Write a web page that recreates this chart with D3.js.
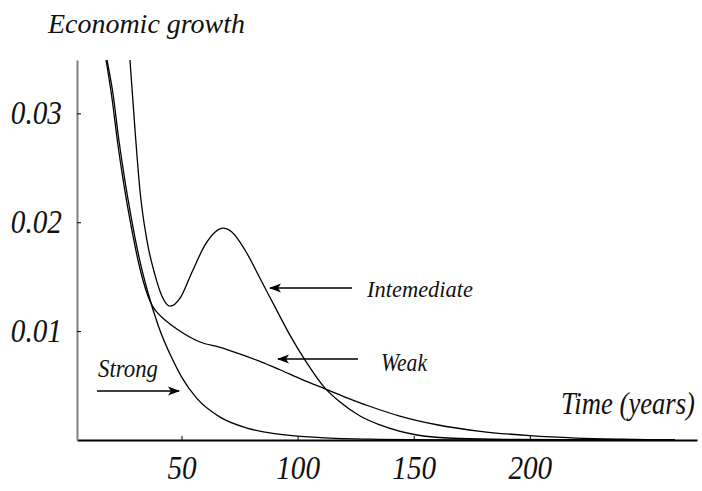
<!DOCTYPE html>
<html>
<head>
<meta charset="utf-8">
<script src="https://cdn.jsdelivr.net/npm/d3@7"></script>
<style>
  body { margin: 0; background: #fff; }
  svg text { font-family: "Liberation Serif", serif; font-style: italic; fill: #111; }
</style>
</head>
<body>
<div id="container"></div>
<script>
/**
 * DATA (time in years, growth rate)
 * */
const xTicks = [50, 100, 150, 200];
const yTicks = [0.01, 0.02, 0.03];

const intermediate = [
  [27.8, 0.0349], [30.0, 0.02844], [32.1, 0.02294], [35.1, 0.01835], [38.6, 0.01514],
  [41.6, 0.01321], [45.1, 0.01229], [49.4, 0.01303], [54.5, 0.01541], [60.1, 0.01789],
  [64.4, 0.01908], [67.9, 0.01945], [71.8, 0.01908], [77.4, 0.01743], [83.8, 0.01486],
  [90.3, 0.0122], [96.7, 0.00963], [103.2, 0.00734], [111.8, 0.00477], [118.3, 0.00349],
  [126.9, 0.0022], [135.5, 0.00138], [151.4, 0.00046], [169.9, 0.00014], [195.8, 0.00005],
  [230.2, 0], [262.5, 0]
];

const weak = [
  [17.5, 0.0349], [20, 0.0315], [22.5, 0.0273], [25, 0.0237], [28, 0.0200],
  [31.5, 0.0163], [33.5, 0.0146], [35.6, 0.0132], [37.5, 0.0123], [40, 0.0116],
  [43, 0.0110], [48, 0.0102], [58, 0.0090], [66.6, 0.0085], [75, 0.0079],
  [84, 0.0072], [92.4, 0.00645], [102, 0.00555], [111.8, 0.0047], [121, 0.0039],
  [131, 0.0031], [144, 0.0022], [160, 0.0014], [178.6, 0.0008], [200, 0.0004],
  [220, 0.00018], [240, 0.00007], [262.5, 0]
];

const strong = [
  [17.9, 0.0349], [20.5, 0.0318], [23, 0.0276], [25.5, 0.0240], [28.3, 0.0205],
  [31.5, 0.0170], [35.6, 0.0135], [40, 0.0105], [45.9, 0.0075], [50, 0.0058],
  [56.7, 0.0038], [66.6, 0.0021], [78.2, 0.0011], [89.4, 0.0006], [110, 0.00022],
  [135, 0.00006], [165, 0], [262.5, 0]
];

/**
 * SETUP
 * */
const width = 702, height = 491;
const serif = "'Liberation Serif', 'Times New Roman', serif";

const svg = d3.select("#container")
  .append("svg")
  .attr("width", width)
  .attr("height", height);

const x = d3.scaleLinear().domain([5, 272]).range([77, 697]);
const y = d3.scaleLinear().domain([0, 0.0349]).range([440, 60]);

// arrow head
svg.append("defs").append("marker")
  .attr("id", "head")
  .attr("viewBox", "0 -5 12 10")
  .attr("refX", 11).attr("refY", 0)
  .attr("markerWidth", 12).attr("markerHeight", 10)
  .attr("markerUnits", "userSpaceOnUse")
  .attr("orient", "auto")
  .append("path")
  .attr("d", "M0,-4.5L12,0L0,4.5L3,0Z")
  .attr("fill", "#000");

// axes
const xAxis = svg.append("g")
  .attr("transform", "translate(0,440)")
  .call(d3.axisBottom(x).tickValues(xTicks).tickSize(-4).tickSizeOuter(0).tickFormat(d3.format("d")));
xAxis.attr("font-family", null);
xAxis.select(".domain").attr("stroke", "#000").attr("stroke-width", 2);
xAxis.selectAll(".tick line").attr("stroke", "#000");
xAxis.selectAll(".tick text")
  .attr("y", 39).attr("dy", null)
  .attr("transform", "scale(0.86,1)")
  .style("font-family", serif).style("font-style", "italic")
  .style("font-size", "34px")
  .attr("fill", "#111");

const yAxis = svg.append("g")
  .attr("transform", "translate(77,0)")
  .call(d3.axisLeft(y).tickValues(yTicks).tickSize(-4).tickSizeOuter(0).tickFormat(d3.format(".2f")));
yAxis.attr("font-family", null);
yAxis.select(".domain").attr("stroke", "#808080").attr("stroke-width", 2);
yAxis.selectAll(".tick line").attr("stroke", "#000");
yAxis.selectAll(".tick text")
  .attr("x", -17.5).attr("dy", "0.3em")
  .attr("transform", "scale(0.86,1)")
  .style("font-family", serif).style("font-style", "italic")
  .style("font-size", "34px")
  .attr("fill", "#111");

// curves
const line = d3.line()
  .x(d => x(d[0]))
  .y(d => y(d[1]))
  .curve(d3.curveMonotoneX);

svg.selectAll("path.curve")
  .data([strong, weak, intermediate])
  .join("path")
  .attr("class", "curve")
  .attr("d", line)
  .attr("fill", "none")
  .attr("stroke", "#000")
  .attr("stroke-width", 1.3);

// titles
svg.append("text").attr("x", 48).attr("y", 33)
  .attr("textLength", 197).attr("lengthAdjust", "spacingAndGlyphs")
  .style("font-family", serif)
  .style("font-size", "28px").text("Economic growth");

svg.append("text")
  .attr("transform", "translate(561,414) scale(0.86,1)")
  .style("font-family", serif)
  .style("font-size", "31px").text("Time (years)");

// annotations
const notes = [
  { label: "Strong", tx: 98, ty: 377, len: 60, size: 25, x1: 97, x2: 179, ay: 391 },
  { label: "Intemediate", tx: 367, ty: 297, len: 106, size: 24, x1: 352, x2: 270, ay: 288 },
  { label: "Weak", tx: 381, ty: 371, len: 46, size: 25, x1: 358, x2: 278, ay: 359 }
];

svg.selectAll("text.note")
  .data(notes)
  .join("text")
  .attr("class", "note")
  .attr("x", d => d.tx).attr("y", d => d.ty)
  .attr("textLength", d => d.len).attr("lengthAdjust", "spacingAndGlyphs")
  .style("font-family", serif)
  .style("font-size", d => d.size + "px")
  .text(d => d.label);

svg.selectAll("line.arrow")
  .data(notes)
  .join("line")
  .attr("class", "arrow")
  .attr("x1", d => d.x1).attr("x2", d => d.x2)
  .attr("y1", d => d.ay).attr("y2", d => d.ay)
  .attr("stroke", "#000")
  .attr("stroke-width", 1.3)
  .attr("marker-end", "url(#head)");
</script>
</body>
</html>
